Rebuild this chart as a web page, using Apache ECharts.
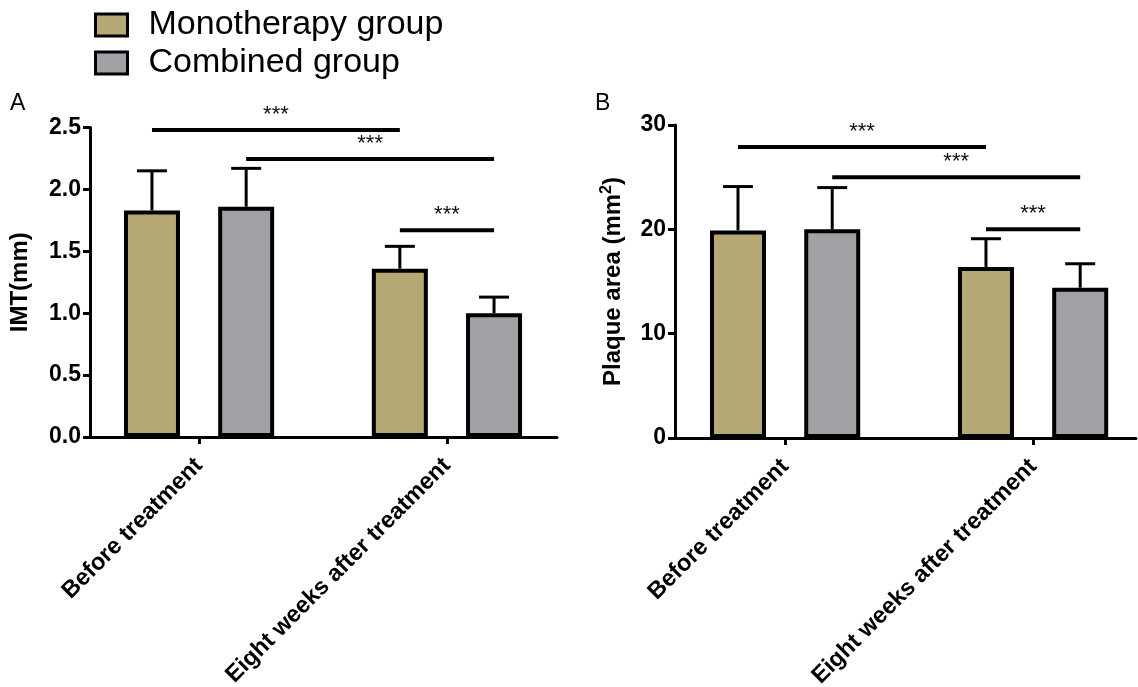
<!DOCTYPE html>
<html><head><meta charset="utf-8">
<script src="https://cdn.jsdelivr.net/npm/echarts@6/dist/echarts.min.js"></script>
<style>html,body{margin:0;padding:0;background:#fff}#c{width:1138px;height:687px}</style>
</head><body><div id="c"></div>
<script>
// ---------------- data ----------------
const categories = ['Before treatment', 'Eight weeks after treatment'];
const seriesNames = ['Monotherapy group', 'Combined group'];
const imtMono = [1.83, 1.36];
const imtComb = [1.86, 1.00];
const imtMonoSD = [0.32, 0.18];
const imtCombSD = [0.31, 0.13];
const plaqueMono = [19.9, 16.4];
const plaqueComb = [20.0, 14.4];
const plaqueMonoSD = [4.2, 2.7];
const plaqueCombSD = [4.0, 2.3];
const imtTicks = [0, 0.5, 1.0, 1.5, 2.0, 2.5];
const plaqueTicks = [0, 10, 20, 30];
// significance brackets: [from (category, group), to (category, group), level, label]
const imtSig = [[0, 0, 1, 0, 2.48, '***'], [0, 1, 1, 1, 2.245, '***'], [1, 0, 1, 1, 1.67, '***']];
const plaqueSig = [[0, 0, 1, 0, 27.9, '***'], [0, 1, 1, 1, 25.0, '***'], [1, 0, 1, 1, 20.0, '***']];

// ---------------- layout / style ----------------
const GROUP_OFFSET = [-0.19, 0.19];   // bar offset within a category (category units)
const COLORS = ['#b4a874', '#a1a0a5'];
const FONT = 'Liberation Sans';
const xPos = (cat, grp) => cat + GROUP_OFFSET[grp];

function barData(vals, grp) { return vals.map((v, i) => [xPos(i, grp), v]); }
function errData(vals, sds, grp) { return vals.map((v, i) => [xPos(i, grp), v, sds[i]]); }
function sigData(sig) { return sig.map(s => [xPos(s[0], s[1]), xPos(s[2], s[3]), s[4], s[5]]); }

function errRender(params, api) {
  const x = api.value(0), y = api.value(1), sd = api.value(2);
  const p0 = api.coord([x, y]);
  const p1 = api.coord([x, y + sd]);
  return { type: 'group', children: [
    { type: 'line', shape: { x1: p0[0], y1: p0[1], x2: p1[0], y2: p1[1] }, style: { stroke: '#000', lineWidth: 3 } },
    { type: 'line', shape: { x1: p1[0] - 15, y1: p1[1], x2: p1[0] + 15, y2: p1[1] }, style: { stroke: '#000', lineWidth: 3 } }
  ]};
}
function sigRender(params, api) {
  const a = api.coord([api.value(0), api.value(2)]);
  const b = api.coord([api.value(1), api.value(2)]);
  const label = sigSource[params.seriesId][params.dataIndex][3];
  return { type: 'group', children: [
    { type: 'line', shape: { x1: a[0], y1: a[1], x2: b[0], y2: b[1] }, style: { stroke: '#000', lineWidth: 4 } },
    { type: 'text', x: (a[0] + b[0]) / 2, y: a[1] - 4, style: { text: label, fontSize: 22, fontFamily: FONT, fill: '#111', align: 'center', verticalAlign: 'bottom' } }
  ]};
}
const sigSource = { sigA: sigData(imtSig), sigB: sigData(plaqueSig) };

function xAxisCfg(grid, min, max) {
  return {
    type: 'value', gridIndex: grid, min: min, max: max,
    axisLine: { show: true, onZero: false, lineStyle: { color: '#000', width: 3 } },
    axisTick: { show: true, customValues: [0, 1], length: 7, lineStyle: { color: '#000', width: 3 } },
    axisLabel: { show: true, customValues: [0, 1], formatter: v => categories[Math.round(v)], rotate: 45, margin: 25,
                 fontSize: 23.5, fontWeight: 'bold', color: '#000', fontFamily: FONT },
    splitLine: { show: false }
  };
}
function yAxisCfg(grid, ticks, dec, name, gap, rich) {
  return {
    type: 'value', gridIndex: grid, min: ticks[0], max: ticks[ticks.length - 1], interval: ticks[1] - ticks[0],
    name: name, nameLocation: 'middle', nameGap: gap,
    nameTextStyle: { fontSize: 24, fontWeight: 'bold', color: '#000', fontFamily: FONT, rich: rich },
    axisLine: { show: true, onZero: false, lineStyle: { color: '#000', width: 3 } },
    axisTick: { show: true, length: 7, lineStyle: { color: '#000', width: 3 } },
    axisLabel: { formatter: v => v.toFixed(dec), margin: 9, fontSize: 23, fontWeight: 'bold', color: '#000', fontFamily: FONT },
    splitLine: { show: false }
  };
}
function barSeries(name, data, xi, grp) {
  return { type: 'bar', name: name, xAxisIndex: xi, yAxisIndex: xi, data: data, barWidth: 56, barGap: '-100%',
           itemStyle: { color: COLORS[grp], borderColor: '#000', borderWidth: 4 }, z: 3 };
}
function errSeries(data, xi) {
  return { type: 'custom', xAxisIndex: xi, yAxisIndex: xi, data: data, renderItem: errRender, encode: { x: 0, y: 1 }, z: 2, silent: true };
}
function sigSeries(id, xi) {
  return { type: 'custom', id: id, xAxisIndex: xi, yAxisIndex: xi, data: sigSource[id].map(d => d.slice(0, 3)),
           renderItem: sigRender, encode: { x: [0, 1], y: 2 }, z: 4, silent: true };
}

const chart = echarts.init(document.getElementById('c'), null, { renderer: 'canvas' });
chart.setOption({
  animation: false,
  backgroundColor: '#fff',
  textStyle: { fontFamily: FONT },
  legend: {
    orient: 'vertical', left: 89, top: 3, itemWidth: 32, itemHeight: 22, itemGap: 4, icon: 'rect',
    selectedMode: false, data: seriesNames,
    itemStyle: { borderColor: '#000', borderWidth: 3 },
    textStyle: { fontSize: 34, color: '#000', fontFamily: FONT, padding: [0, 0, 0, 16] }
  },
  graphic: [
    { type: 'text', left: 10, top: 92, style: { text: 'A', fontSize: 23, fill: '#000', fontFamily: FONT } },
    { type: 'text', left: 595, top: 92, style: { text: 'B', fontSize: 23, fill: '#000', fontFamily: FONT } }
  ],
  grid: [
    { left: 90, right: 581, top: 127.5, bottom: 250, outerBoundsMode: 'none', containLabel: false },
    { left: 675, right: 2, top: 125, bottom: 249, outerBoundsMode: 'none', containLabel: false }
  ],
  xAxis: [ xAxisCfg(0, -0.44, 1.444), xAxisCfg(1, -0.444, 1.415) ],
  yAxis: [
    yAxisCfg(0, imtTicks, 1, 'IMT(mm)', 58),
    yAxisCfg(1, plaqueTicks, 0, 'Plaque area (mm{sup|2})', 48,
             { sup: { fontSize: 16, fontWeight: 'bold', color: '#000', fontFamily: FONT, verticalAlign: 'bottom', padding: [0, 0, 12, 0] } })
  ],
  series: [
    errSeries(errData(imtMono, imtMonoSD, 0), 0),
    errSeries(errData(imtComb, imtCombSD, 1), 0),
    barSeries(seriesNames[0], barData(imtMono, 0), 0, 0),
    barSeries(seriesNames[1], barData(imtComb, 1), 0, 1),
    sigSeries('sigA', 0),
    errSeries(errData(plaqueMono, plaqueMonoSD, 0), 1),
    errSeries(errData(plaqueComb, plaqueCombSD, 1), 1),
    barSeries(seriesNames[0], barData(plaqueMono, 0), 1, 0),
    barSeries(seriesNames[1], barData(plaqueComb, 1), 1, 1),
    sigSeries('sigB', 1)
  ]
});
</script></body></html>
